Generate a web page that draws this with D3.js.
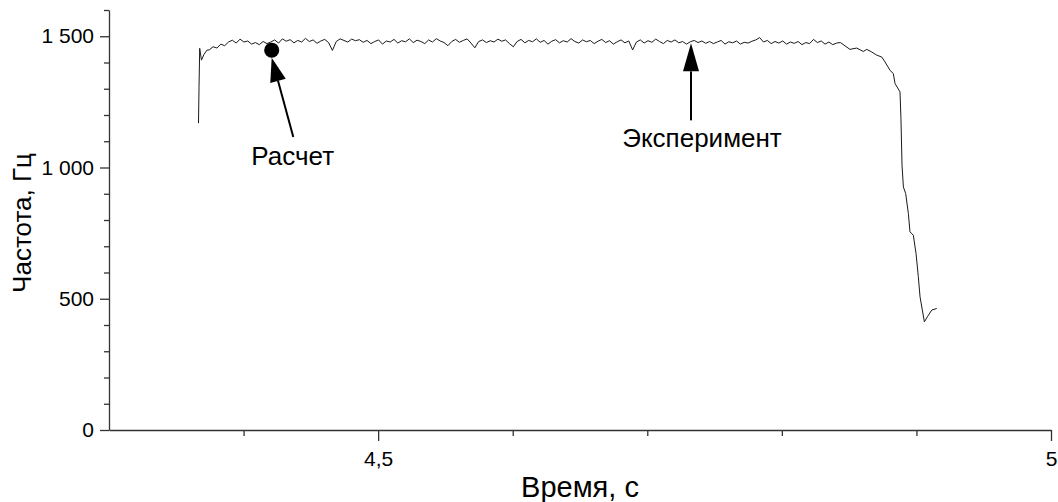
<!DOCTYPE html>
<html>
<head>
<meta charset="utf-8">
<script src="https://cdn.jsdelivr.net/npm/d3@7"></script>
<style>
  body { margin: 0; background: #fff; }
  text { font-family: "Liberation Sans", Arial, sans-serif; fill: #000; }
</style>
</head>
<body>
<svg id="chart" width="1058" height="502"></svg>
<script>
// axis setup
var xDomain = [4.3, 5.0];
var yDomain = [0, 1600];
var xMajor = [4.5, 5.0];
var xMinor = [4.4, 4.6, 4.7, 4.8, 4.9];
var yMajor = [0, 500, 1000, 1500];
var yMinor = [100, 200, 300, 400, 600, 700, 800, 900, 1100, 1200, 1300, 1400, 1600];

// experiment: start of the record (t, Hz)
var startPts = [[4.3665, 1169], [4.3669, 1306], [4.3674, 1454], [4.3687, 1409], [4.3706, 1431], [4.3728, 1447]];
// experiment: steady part, sampled every 0.00286 s from 4.3745 s
var plateauT0 = 4.3745, plateauDt = 0.00286;
var plateauHz = [
  1448, 1460, 1455, 1470, 1464, 1478, 1485, 1474, 1489, 1478,
  1482, 1470, 1476, 1468, 1480, 1472, 1478, 1486, 1474, 1490,
  1481, 1487, 1475, 1484, 1478, 1492, 1480, 1486, 1473, 1482,
  1488, 1476, 1446, 1480, 1490, 1484, 1478, 1489, 1483, 1487,
  1477, 1484, 1472, 1480, 1486, 1470, 1482, 1478, 1488, 1474,
  1483, 1479, 1490, 1476, 1485, 1480, 1472, 1486, 1478, 1491,
  1482, 1476, 1464, 1480, 1488, 1477, 1484, 1490, 1474, 1456,
  1480, 1486, 1476, 1483, 1478, 1489, 1481, 1486, 1472, 1460,
  1480, 1488, 1475, 1484, 1479, 1490, 1477, 1484, 1470, 1481,
  1487, 1475, 1483, 1478, 1491, 1480, 1474, 1486, 1479, 1484,
  1472, 1481, 1488, 1476, 1483, 1470, 1479, 1486, 1475, 1482,
  1448, 1478, 1486, 1474, 1483, 1477, 1489, 1480, 1472, 1484,
  1478, 1486, 1475, 1480, 1470, 1479, 1484, 1476, 1482, 1473,
  1480, 1472, 1478, 1484, 1470, 1479, 1475, 1482, 1470, 1477,
  1474, 1481, 1486, 1495, 1478, 1484, 1472, 1480, 1474, 1482,
  1470, 1478, 1473, 1480, 1468, 1476, 1472, 1488, 1476, 1482,
  1470, 1478, 1468, 1474, 1476
];
// experiment: run-down at the end (t, Hz)
var endPts = [
  [4.8506, 1450], [4.8556, 1455], [4.8605, 1442], [4.8631, 1450], [4.8668, 1440],
  [4.8705, 1428], [4.8742, 1421], [4.8767, 1402], [4.8804, 1370], [4.8828, 1358],
  [4.8841, 1320], [4.8878, 1288], [4.8885, 1187], [4.8893, 1009], [4.8903, 926],
  [4.8920, 901], [4.8940, 825], [4.8952, 755], [4.8977, 742], [4.8997, 673],
  [4.9014, 584], [4.9027, 507], [4.9059, 412], [4.9081, 431], [4.9114, 457], [4.9151, 463]
];
// calculated point and the experiment point that is pointed at
var calcPoint = [4.4209, 1447];
var expPoint = [4.7325, 1473];

var svg = d3.select("#chart");
var x = d3.scaleLinear().domain(xDomain).range([109, 1051]);
var y = d3.scaleLinear().domain(yDomain).range([430, 10]);

var ru = d3.formatLocale({decimal: ",", thousands: " ", grouping: [3], currency: ["", ""]});
var axisColor = "#333";

// minor ticks first
svg.append("g").attr("transform", "translate(109,0)")
  .call(d3.axisLeft(y).tickValues(yMinor).tickSize(5).tickFormat(""))
  .call(g => g.select(".domain").remove());
svg.append("g").attr("transform", "translate(0,430)")
  .call(d3.axisBottom(x).tickValues(xMinor).tickSize(6).tickFormat(""))
  .call(g => g.select(".domain").remove());

svg.append("g").attr("transform", "translate(109,0)")
  .call(d3.axisLeft(y).tickValues(yMajor).tickSize(9).tickSizeOuter(0).tickPadding(6).tickFormat(ru.format(",d")));
svg.append("g").attr("transform", "translate(0,430)")
  .call(d3.axisBottom(x).tickValues(xMajor).tickSize(11).tickSizeOuter(0).tickPadding(10).tickFormat(ru.format(".1~f")));

svg.selectAll(".tick line, .domain").attr("stroke", axisColor).attr("stroke-width", 1.3);
svg.selectAll(".tick text").attr("font-size", 21).attr("font-family", "Liberation Sans, Arial, sans-serif").attr("fill", "#000");

// axis titles
svg.append("text").attr("x", 580).attr("y", 497).attr("text-anchor", "middle")
  .attr("font-size", 29).text("Время, с");
svg.append("text").attr("transform", "translate(31,223) rotate(-90)").attr("text-anchor", "middle")
  .attr("font-size", 26).text("Частота, Гц");

// experiment curve
var series = startPts.concat(plateauHz.map((v, i) => [plateauT0 + i * plateauDt, v]), endPts);
var line = d3.line().x(d => x(d[0])).y(d => y(d[1]));
svg.append("path").datum(series).attr("d", line)
  .attr("fill", "none").attr("stroke", "#1a1a1a").attr("stroke-width", 1);

// calculated point
var r = 7.5;
svg.append("circle").attr("cx", x(calcPoint[0])).attr("cy", y(calcPoint[1])).attr("r", r).attr("fill", "#000");

function arrow(tx, ty, fx, fy, len, half) {
  var dx = fx - tx, dy = fy - ty, L = Math.sqrt(dx * dx + dy * dy);
  var ux = dx / L, uy = dy / L;
  var bx = tx + ux * len, by = ty + uy * len;
  svg.append("line").attr("x1", fx).attr("y1", fy).attr("x2", bx).attr("y2", by)
    .attr("stroke", "#000").attr("stroke-width", 2);
  svg.append("path")
    .attr("d", "M" + tx + "," + ty + "L" + (bx - uy * half) + "," + (by + ux * half) +
      "L" + (bx + uy * half) + "," + (by - ux * half) + "Z")
    .attr("fill", "#000");
}

// annotation "Расчет"
var cx = x(calcPoint[0]), cy = y(calcPoint[1]) + r;
arrow(cx, cy, cx + 21.6, cy + 79.4, 24, 8);
svg.append("text").attr("x", cx + 21).attr("y", cy + 107).attr("text-anchor", "middle")
  .attr("font-size", 26).text("Расчет");

// annotation "Эксперимент"
var ex = x(expPoint[0]), ey = y(expPoint[1]);
arrow(ex, ey, ex, ey + 77, 28, 8);
svg.append("text").attr("x", ex + 11).attr("y", ey + 104).attr("text-anchor", "middle")
  .attr("font-size", 26).text("Эксперимент");
</script>
</body>
</html>
